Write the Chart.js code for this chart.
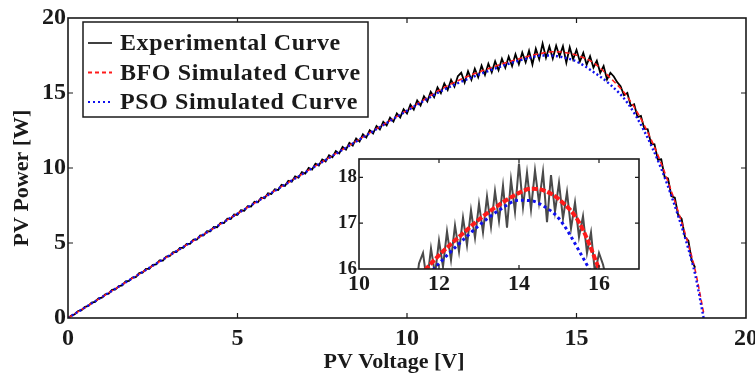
<!DOCTYPE html>
<html>
<head>
<meta charset="utf-8">
<script src="https://cdn.jsdelivr.net/npm/chart.js@4.4.1/dist/chart.umd.min.js"></script>
<style>
  html, body { margin: 0; padding: 0; background: #fff; }
  #wrap { position: relative; width: 755px; height: 376px; overflow: hidden; }
  #main { position: absolute; left: 0; top: 0; }
  #inset { position: absolute; left: 320px; top: 150px; }
</style>
</head>
<body>
<div id="wrap">
  <canvas id="main" width="755" height="376"></canvas>
  <canvas id="inset" width="335" height="155"></canvas>
</div>
<script>
// ── Data ─────────────────────────────────────────────────────
const seriesLabels = ['Experimental Curve', 'BFO Simulated Curve', 'PSO Simulated Curve'];

// measured P-V points (V, W)
const expV = [
  0.0, 0.1, 0.2, 0.3, 0.4, 0.5, 0.6, 0.7, 0.8, 0.9,
  1.0, 1.1, 1.2, 1.3, 1.4, 1.5, 1.6, 1.7, 1.8, 1.9,
  2.0, 2.1, 2.2, 2.3, 2.4, 2.5, 2.6, 2.7, 2.8, 2.9,
  3.0, 3.1, 3.2, 3.3, 3.4, 3.5, 3.6, 3.7, 3.8, 3.9,
  4.0, 4.1, 4.2, 4.3, 4.4, 4.5, 4.6, 4.7, 4.8, 4.9,
  5.0, 5.1, 5.2, 5.3, 5.4, 5.5, 5.6, 5.7, 5.8, 5.9,
  6.0, 6.1, 6.2, 6.3, 6.4, 6.5, 6.6, 6.7, 6.8, 6.9,
  7.0, 7.1, 7.2, 7.3, 7.4, 7.5, 7.6, 7.7, 7.8, 7.9,
  8.0, 8.1, 8.2, 8.3, 8.4, 8.5, 8.6, 8.7, 8.8, 8.9,
  9.0, 9.1, 9.2, 9.3, 9.4, 9.5, 9.6, 9.7, 9.8, 9.9,
  10.0, 10.1, 10.2, 10.3, 10.4, 10.5, 10.6, 10.7, 10.8, 10.9,
  11.0, 11.1, 11.2, 11.3, 11.4, 11.5, 11.6, 11.7, 11.8, 11.9,
  12.0, 12.1, 12.2, 12.3, 12.4, 12.5, 12.6, 12.7, 12.8, 12.9,
  13.0, 13.1, 13.2, 13.3, 13.4, 13.5, 13.6, 13.7, 13.8, 13.9,
  14.0, 14.1, 14.2, 14.3, 14.4, 14.5, 14.6, 14.7, 14.8, 14.9,
  15.0, 15.1, 15.2, 15.3, 15.4, 15.5, 15.6, 15.7, 15.8, 15.9,
  16.0, 16.1, 16.2, 16.3, 16.4, 16.5, 16.6, 16.7, 16.8, 16.9,
  17.0, 17.1, 17.2, 17.3, 17.4, 17.5, 17.6, 17.7, 17.8, 17.9,
  18.0, 18.1, 18.2, 18.3, 18.4, 18.5
];
const expP = [
  0.00, 0.16, 0.25, 0.47, 0.52, 0.74, 0.80, 1.03, 1.07, 1.31,
  1.35, 1.58, 1.62, 1.88, 1.90, 2.13, 2.17, 2.44, 2.47, 2.70,
  2.73, 2.99, 3.02, 3.27, 3.28, 3.55, 3.57, 3.84, 3.83, 4.10,
  4.12, 4.39, 4.40, 4.67, 4.68, 4.94, 4.95, 5.23, 5.22, 5.50,
  5.51, 5.79, 5.78, 6.07, 6.05, 6.34, 6.33, 6.62, 6.60, 6.90,
  6.88, 7.18, 7.15, 7.46, 7.43, 7.75, 7.71, 8.02, 7.98, 8.31,
  8.26, 8.58, 8.53, 8.88, 8.81, 9.15, 9.08, 9.44, 9.35, 9.72,
  9.63, 10.00, 9.90, 10.29, 10.17, 10.57, 10.44, 10.85, 10.71, 11.13,
  10.97, 11.40, 11.22, 11.68, 11.50, 11.97, 11.76, 12.25, 12.03, 12.52,
  12.30, 12.80, 12.57, 13.08, 12.84, 13.36, 13.10, 13.64, 13.37, 13.92,
  13.63, 14.22, 13.90, 14.50, 14.16, 14.79, 14.44, 15.08, 14.72, 15.37,
  14.99, 15.63, 15.20, 15.88, 15.42, 16.12, 16.35, 15.70, 16.45, 15.88,
  16.62, 16.05, 16.82, 16.20, 16.95, 16.38, 17.12, 16.52, 17.28, 16.68,
  17.42, 16.80, 17.58, 16.92, 17.70, 17.05, 17.82, 16.90, 17.95, 17.25,
  18.30, 17.35, 18.10, 17.30, 18.15, 17.45, 18.12, 17.02, 18.05, 17.25,
  17.88, 17.10, 17.68, 16.88, 17.45, 16.70, 17.15, 16.35, 16.80, 15.90,
  16.35, 16.10, 15.72, 15.45, 14.85, 15.00, 14.15, 14.25, 13.40, 13.48,
  12.62, 12.58, 11.62, 11.58, 10.55, 10.58, 9.40, 9.30, 8.12, 8.02,
  6.85, 6.62, 5.40, 5.15, 3.82, 3.35
];

// simulated curves
const simV = [0, 2, 4, 6, 8, 9, 10, 10.5, 11, 11.5, 12, 12.5, 13, 13.5, 14, 14.3, 14.6, 15, 15.5, 16, 16.5, 17, 17.5, 18, 18.3, 18.5, 18.75];
const bfoP = [0, 2.79, 5.57, 8.35, 11.10, 12.48, 13.85, 14.55, 15.25, 15.82, 16.30, 16.70, 17.08, 17.40, 17.66, 17.75, 17.72, 17.52, 17.02, 16.00, 14.75, 12.85, 10.30, 7.10, 4.90, 3.20, 0.35];
const psoP = [0, 2.79, 5.57, 8.34, 11.08, 12.45, 13.82, 14.48, 15.12, 15.65, 16.12, 16.55, 16.95, 17.28, 17.50, 17.49, 17.38, 17.10, 16.40, 15.55, 14.35, 12.45, 9.95, 6.80, 4.60, 2.90, 0];

const mainTicksX = [0, 5, 10, 15, 20];
const mainTicksY = [0, 5, 10, 15, 20];
const insetTicksX = [10, 12, 14, 16];
const insetTicksY = [16, 17, 18];

const SERIF = '"Liberation Serif", "Times New Roman", serif';
const INK = '#1a1a1a';

const pts = (xs, ys) => ys.map((y, i) => ({ x: xs[i], y }));

// ── Datasets ─────────────────────────────────────────────────
function makeDatasets(inset) {
  return [
    {
      label: seriesLabels[0],
      data: pts(expV, expP),
      borderColor: inset ? '#4a4a4a' : '#000',
      borderWidth: inset ? 2 : 1.8,
      pointRadius: 0,
      tension: 0,
      order: 3
    },
    {
      label: seriesLabels[1],
      data: pts(simV, bfoP),
      borderColor: '#ff1a1a',
      borderWidth: inset ? 4 : 1.6,
      borderDash: inset ? [6, 2] : [5, 3],
      pointRadius: 0,
      cubicInterpolationMode: 'monotone',
      order: 2
    },
    {
      label: seriesLabels[2],
      data: pts(simV, psoP),
      borderColor: '#1010ee',
      borderWidth: inset ? 3 : 2.4,
      borderDash: inset ? [3, 3] : [2, 2.5],
      pointRadius: 0,
      cubicInterpolationMode: 'monotone',
      order: 1
    }
  ];
}

// ── Plugins ──────────────────────────────────────────────────
function framePlugin(fill, tickLen) {
  return {
    id: 'frame',
    beforeDatasetsDraw(chart) {
      if (!fill) return;
      const a = chart.chartArea;
      chart.ctx.save();
      chart.ctx.fillStyle = '#fff';
      chart.ctx.fillRect(a.left, a.top, a.right - a.left, a.bottom - a.top);
      chart.ctx.restore();
    },
    afterDatasetsDraw(chart) {
      const { ctx, chartArea: a, scales: { x, y } } = chart;
      ctx.save();
      ctx.strokeStyle = INK;
      ctx.lineWidth = 1.6;
      ctx.strokeRect(a.left, a.top, a.right - a.left, a.bottom - a.top);
      ctx.lineWidth = 1.2;
      ctx.beginPath();
      x.ticks.forEach(t => {
        const px = x.getPixelForValue(t.value);
        if (px <= a.left + 1 || px >= a.right - 1) return;
        ctx.moveTo(px, a.bottom); ctx.lineTo(px, a.bottom - tickLen);
        ctx.moveTo(px, a.top); ctx.lineTo(px, a.top + tickLen);
      });
      y.ticks.forEach(t => {
        const py = y.getPixelForValue(t.value);
        if (py <= a.top + 1 || py >= a.bottom - 1) return;
        ctx.moveTo(a.left, py); ctx.lineTo(a.left + tickLen, py);
        ctx.moveTo(a.right, py); ctx.lineTo(a.right - tickLen, py);
      });
      ctx.stroke();
      ctx.restore();
    }
  };
}

const titlesPlugin = {
  id: 'titles',
  afterDraw(chart) {
    const ctx = chart.ctx;
    ctx.save();
    ctx.fillStyle = INK;
    ctx.font = 'bold 22px ' + SERIF;
    ctx.textAlign = 'center';
    ctx.textBaseline = 'middle';
    ctx.fillText('PV Voltage [V]', 394, 362);
    ctx.translate(22, 178);
    ctx.rotate(-Math.PI / 2);
    ctx.fillText('PV Power [W]', 0, 0);
    ctx.restore();
  }
};

const legendPlugin = {
  id: 'legendBox',
  afterDraw(chart) {
    const ctx = chart.ctx;
    ctx.save();
    ctx.fillStyle = '#fff';
    ctx.fillRect(83, 22, 285, 95);
    ctx.strokeStyle = INK;
    ctx.lineWidth = 1.5;
    ctx.strokeRect(83, 22, 285, 95);
    ctx.font = 'bold 24px ' + SERIF;
    ctx.letterSpacing = '0.6px';
    ctx.textBaseline = 'middle';
    chart.data.datasets.forEach((ds, i) => {
      const ry = 43 + i * 29.5;
      ctx.beginPath();
      ctx.strokeStyle = ds.borderColor;
      ctx.lineWidth = i === 0 ? 1.5 : 2;
      ctx.setLineDash(i === 1 ? [4, 3] : i === 2 ? [2, 3] : []);
      ctx.moveTo(88, ry); ctx.lineTo(112, ry);
      ctx.stroke();
      ctx.setLineDash([]);
      ctx.fillStyle = INK;
      ctx.fillText(ds.label, 120, ry + 1);
    });
    ctx.restore();
  }
};

function onlyTicks(list) {
  return scale => { scale.ticks = list.map(v => ({ value: v })); };
}

function axis(min, max, list, fontSize, pad, fit) {
  return {
    type: 'linear',
    min, max,
    afterBuildTicks: onlyTicks(list),
    ticks: {
      font: { family: SERIF, weight: 'bold', size: fontSize },
      color: INK,
      padding: pad,
      maxRotation: 0,
      autoSkip: false
    },
    grid: { display: false, drawTicks: false },
    border: { display: false },
    afterFit: fit
  };
}

// ── Main chart ───────────────────────────────────────────────
new Chart(document.getElementById('main'), {
  type: 'line',
  data: { datasets: makeDatasets(false) },
  options: {
    responsive: false,
    animation: false,
    events: [],
    layout: { padding: { left: 0, right: 9, top: 18, bottom: 0 } },
    plugins: { legend: { display: false }, tooltip: { enabled: false } },
    scales: {
      x: axis(0, 20, mainTicksX, 24, 6, s => { s.height = 58; s.paddingLeft = 0; s.paddingRight = 0; }),
      y: axis(0, 20, mainTicksY, 24, 2, s => { s.width = 68; s.paddingTop = 0; s.paddingBottom = 0; })
    }
  },
  plugins: [framePlugin(false, 5), titlesPlugin, legendPlugin]
});

// ── Inset (zoom on the MPP) ──────────────────────────────────
new Chart(document.getElementById('inset'), {
  type: 'line',
  data: { datasets: makeDatasets(true) },
  options: {
    responsive: false,
    animation: false,
    events: [],
    layout: { padding: { left: 0, right: 16, top: 9, bottom: 0 } },
    plugins: { legend: { display: false }, tooltip: { enabled: false } },
    scales: {
      x: axis(10, 17, insetTicksX, 22, 2, s => { s.height = 36; s.paddingLeft = 0; s.paddingRight = 0; }),
      y: axis(16, 18.4, insetTicksY, 19, 2, s => { s.width = 39; s.paddingTop = 0; s.paddingBottom = 0; })
    }
  },
  plugins: [framePlugin(true, 4)]
});
</script>
</body>
</html>
